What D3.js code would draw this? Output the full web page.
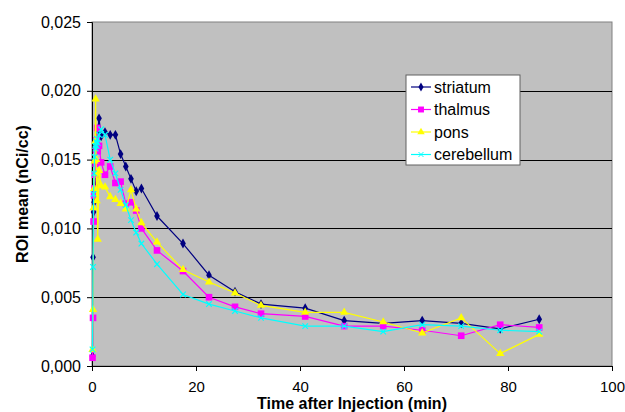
<!DOCTYPE html>
<html lang="en">
<head>
    <meta charset="UTF-8">
    <title>ROI mean vs time after injection</title>
    <script src="https://d3js.org/d3.v7.min.js"></script>
    <style>
        body { margin: 0; background: #fff; }
        text { font-family: Arial, "Liberation Sans", sans-serif; fill: #000; }
        .tick text { font-size: 16px; }
        .x-axis .tick text { font-size: 15px; }
        .axis-title { font-size: 16px; font-weight: bold; }
        .legend text { font-size: 16px; }
    </style>
</head>
<body>

<div id="chart-container"></div>

<script>
    // time points (min)
    const times = [0.1, 0.2, 0.3, 0.4, 0.5, 0.6, 0.7, 0.8, 0.9, 1.0, 1.1, 1.35, 1.75, 2.5, 3.5, 4.5, 5.5, 6.5,
        7.5, 8.5, 9.5, 12.5, 17.5, 22.5, 27.5, 32.5, 41, 48.5, 56, 63.5, 71, 78.5, 86];

    const striatum = [0.0007, 0.0079, 0.0112, 0.0119, 0.0124, 0.0131, 0.0148, 0.0160, 0.0166, 0.0172, 0.0170,
        0.0180, 0.0167, 0.0170, 0.0168, 0.0168, 0.0154, 0.0145, 0.0136, 0.0127, 0.0129,
        0.0109, 0.0089, 0.0066, 0.0054, 0.0045, 0.0042, 0.0033, 0.0031, 0.0033, 0.0031, 0.0027, 0.0034];

    const thalmus = [0.0006, 0.0035, 0.0105, 0.0124, 0.0129, 0.0139, 0.0147, 0.0157, 0.0164, 0.0173, 0.0156,
        0.0160, 0.0148, 0.0139, 0.0145, 0.0133, 0.0134, 0.0118, 0.0119, 0.0113, 0.0100,
        0.0084, 0.0069, 0.0050, 0.0043, 0.0038, 0.0036, 0.0029, 0.0029, 0.0026, 0.0022, 0.0030, 0.0028];

    const pons = [0.0012, 0.0041, 0.0115, 0.0129, 0.0149, 0.0163, 0.0194, 0.0150, 0.0120, 0.0140, 0.0092,
        0.0142, 0.0131, 0.0130, 0.0123, 0.0121, 0.0118, 0.0114, 0.0128, 0.0114, 0.0104,
        0.0090, 0.0070, 0.0061, 0.0053, 0.0044, 0.0039, 0.0039, 0.0032, 0.0024, 0.0035, 0.0009, 0.0023];

    const cerebellum = [0.0012, 0.0072, 0.0125, 0.0140, 0.0152, 0.0160, 0.0158, 0.0163, 0.0160, 0.0165, 0.0162,
        0.0168, 0.0172, 0.0168, 0.0150, 0.0140, 0.0128, 0.0117, 0.0106, 0.0097, 0.0089,
        0.0074, 0.0052, 0.0045, 0.0040, 0.0035, 0.0029, 0.0029, 0.0025, 0.0030, 0.0029, 0.0026, 0.0025];

    const seriesNames = ["striatum", "thalmus", "pons", "cerebellum"];
    const xTicks = [0, 20, 40, 60, 80, 100];
    const yTicks = [0, 0.005, 0.010, 0.015, 0.020, 0.025];

    const series = [
        { name: "striatum", values: striatum, color: "#000080", symbol: d3.symbolDiamond, size: 28, stroke: false },
        { name: "thalmus", values: thalmus, color: "#ff00ff", symbol: d3.symbolSquare, size: 44, stroke: false },
        { name: "pons", values: pons, color: "#ffff00", symbol: d3.symbolTriangle, size: 30, stroke: false },
        { name: "cerebellum", values: cerebellum, color: "#00ffff", symbol: d3.symbolX, size: 22, stroke: true }
    ];

    const totalW = 625, totalH = 412;
    const margin = { top: 22, right: 13, bottom: 46, left: 92 };
    const width = totalW - margin.left - margin.right;
    const height = totalH - margin.top - margin.bottom;

    const svg = d3.select("#chart-container")
        .append("svg")
        .attr("width", totalW)
        .attr("height", totalH);

    const g = svg.append("g")
        .attr("transform", "translate(" + margin.left + "," + margin.top + ")");

    const xScale = d3.scaleLinear().domain([0, 100]).range([0, width]);
    const yScale = d3.scaleLinear().domain([0, 0.025]).range([height, 0]);

    const comma = d3.formatLocale({ decimal: ",", thousands: ".", grouping: [3], currency: ["", ""] }).format(".3f");

    // plot background
    g.append("rect")
        .attr("width", width)
        .attr("height", height)
        .attr("fill", "#c0c0c0")
        .attr("stroke", "#808080")
        .attr("stroke-width", 1);

    // gridlines
    g.selectAll(".grid")
        .data(yTicks.slice(1, -1))
        .enter().append("line")
        .attr("x1", 0)
        .attr("x2", width)
        .attr("y1", d => Math.round(yScale(d)) + 0.5)
        .attr("y2", d => Math.round(yScale(d)) + 0.5)
        .attr("stroke", "#000")
        .attr("stroke-width", 1);

    // axes
    const xAxis = g.append("g")
        .attr("class", "x-axis")
        .attr("transform", "translate(0," + height + ")")
        .call(d3.axisBottom(xScale).tickValues(xTicks).tickSize(5).tickPadding(10));
    const yAxis = g.append("g")
        .call(d3.axisLeft(yScale).tickValues(yTicks).tickFormat(comma).tickSize(5).tickPadding(6));
    [xAxis, yAxis].forEach(a => {
        a.selectAll("path, line").attr("stroke", "#000");
        a.selectAll("text").attr("fill", "#000");
    });

    // lines and markers
    series.forEach(s => {
        const pts = times.map((t, i) => ({ t: t, v: s.values[i] }));
        g.append("path")
            .datum(pts)
            .attr("fill", "none")
            .attr("stroke", s.color)
            .attr("stroke-width", 1.2)
            .attr("d", d3.line().x(d => xScale(d.t)).y(d => yScale(d.v)));

        g.selectAll(".m-" + s.name)
            .data(pts)
            .enter().append("path")
            .attr("transform", d => "translate(" + xScale(d.t) + "," + yScale(d.v) + ")")
            .attr("d", d3.symbol().type(s.symbol).size(s.size))
            .attr("fill", s.stroke ? "none" : s.color)
            .attr("stroke", s.color)
            .attr("stroke-width", s.stroke ? 1.2 : 0);
    });

    // axis titles
    svg.append("text")
        .attr("class", "axis-title")
        .attr("x", margin.left + width / 2)
        .attr("y", 409)
        .attr("text-anchor", "middle")
        .text("Time after Injection (min)");

    svg.append("text")
        .attr("class", "axis-title")
        .attr("transform", "translate(28," + (margin.top + height / 2) + ") rotate(-90)")
        .attr("text-anchor", "middle")
        .text("ROI mean (nCi/cc)");

    // legend
    const legend = svg.append("g").attr("class", "legend")
        .attr("transform", "translate(406,75)");
    legend.append("rect")
        .attr("width", 114)
        .attr("height", 90)
        .attr("fill", "#fff")
        .attr("stroke", "#606060")
        .attr("stroke-width", 1);

    seriesNames.forEach((name, i) => {
        const s = series[i];
        const row = legend.append("g").attr("transform", "translate(0," + (12 + i * 22.5) + ")");
        row.append("line")
            .attr("x1", 5).attr("x2", 25)
            .attr("stroke", s.color).attr("stroke-width", 1.2);
        row.append("path")
            .attr("transform", "translate(15,0)")
            .attr("d", d3.symbol().type(s.symbol).size(s.size * 0.8))
            .attr("fill", s.stroke ? "none" : s.color)
            .attr("stroke", s.color)
            .attr("stroke-width", s.stroke ? 1 : 0);
        row.append("text")
            .attr("x", 28)
            .attr("y", 5.5)
            .text(name);
    });
</script>

</body>
</html>
